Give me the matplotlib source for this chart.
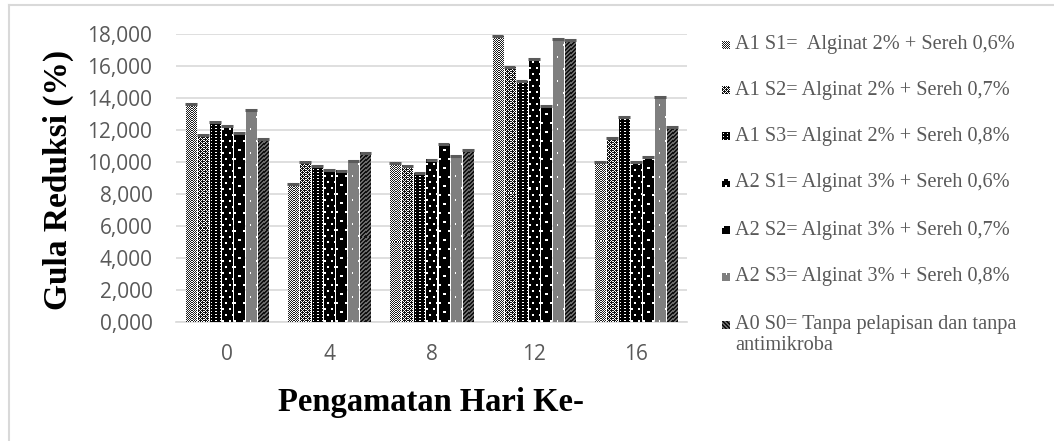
import matplotlib
matplotlib.use("Agg")
import matplotlib.pyplot as plt
import numpy as np
from matplotlib.lines import Line2D
from matplotlib.colors import to_rgb

days = ["0", "4", "8", "12", "16"]
series_labels = [
    "A1 S1=  Alginat 2% + Sereh 0,6%",
    "A1 S2= Alginat 2% + Sereh 0,7%",
    "A1 S3= Alginat 2% + Sereh 0,8%",
    "A2 S1= Alginat 3% + Sereh 0,6%",
    "A2 S2= Alginat 3% + Sereh 0,7%",
    "A2 S3= Alginat 3% + Sereh 0,8%",
    "A0 S0= Tanpa pelapisan dan tanpa\nantimikroba",
]
a1s1 = [13.60, 8.61, 9.96, 17.87, 10.03]
a1s2 = [11.70, 9.99, 9.78, 15.96, 11.48]
a1s3 = [12.50, 9.76, 9.30, 15.06, 12.79]
a2s1 = [12.25, 9.51, 10.13, 16.44, 10.03]
a2s2 = [11.80, 9.44, 11.11, 13.50, 10.30]
a2s3 = [13.25, 10.07, 10.40, 17.68, 14.04]
a0s0 = [11.44, 10.59, 10.76, 17.62, 12.17]
y_ticks = [0, 2, 4, 6, 8, 10, 12, 14, 16, 18]

series = [a1s1, a1s2, a1s3, a2s1, a2s2, a2s3, a0s0]


# Pixel texture fills: each function returns a boolean "foreground" mask
def _grid(h, w):
    return np.mgrid[0:h, 0:w]


def checker_fine(h, w):
    r, c = _grid(h, w)
    return (r + c) % 2 == 0


def checker_star(h, w):
    r, c = _grid(h, w)
    base = (r + c) % 2 == 0
    extra = ((r % 4 == 1) & (c % 4 == 2)) | ((r % 4 == 3) & (c % 4 == 0))
    return base | extra


def dots_grid(h, w):
    r, c = _grid(h, w)
    return ~((r % 3 == 1) & (c % 4 == 1))


def dots_medium(h, w):
    r, c = _grid(h, w)
    shift = (r // 6) % 2 * 3
    return ~((r % 6 < 2) & ((c + shift) % 6 < 2))


def dots_sparse(h, w):
    r, c = _grid(h, w)
    shift = (r // 9) % 2 * 4
    return ~((r % 9 < 2) & ((c + shift) % 8 < 2))


def dots_sparse_gray(h, w):
    r, c = _grid(h, w)
    return ~((r % 12 < 2) & ((c + (r // 12) % 2 * 5) % 10 == 4))


def diag_stripes(h, w):
    r, c = _grid(h, w)
    return ((c - r) % 4) < 2


# foreground colour, background colour, texture
styles = [
    ("#1e1e1e", "white", checker_fine),
    ("#111111", "white", checker_star),
    ("black", "white", dots_grid),
    ("black", "white", dots_medium),
    ("black", "white", dots_sparse),
    ("#7f7f7f", "white", dots_sparse_gray),
    ("#111111", "#6a6a6a", diag_stripes),
]


def texture(h, w, fg, bg, fn):
    mask = fn(h, w)
    img = np.empty((h, w, 3))
    img[mask] = to_rgb(fg)
    img[~mask] = to_rgb(bg)
    return img


W, H = 1054, 441
fig = plt.figure(figsize=(W / 100, H / 100), dpi=100)
ax_l, ax_r, ax_t, ax_b = 176, 687, 34, 322
ax = fig.add_axes([ax_l / W, 1 - ax_b / H, (ax_r - ax_l) / W, (ax_b - ax_t) / H])

n = len(series)
x = np.arange(len(days))
slot = 0.118
bw = 0.098
ax.set_xlim(-0.5, len(days) - 0.5)
ax.set_ylim(0, 18)
px_x = (ax_r - ax_l) / len(days)
px_y = (ax_b - ax_t) / 18.0

for i, (vals, (fg, bg, fn)) in enumerate(zip(series, styles)):
    pos = x + (i - (n - 1) / 2) * slot
    bars = ax.bar(pos, vals, width=bw, color="none", linewidth=0, zorder=3)
    for b in bars:
        x0, v = b.get_x(), b.get_height()
        wpx = max(1, int(round(b.get_width() * px_x)))
        hpx = max(1, int(round(v * px_y)))
        ax.imshow(texture(hpx, wpx, fg, bg, fn), extent=(x0, x0 + b.get_width(), 0, v),
                  origin="lower", interpolation="nearest", aspect="auto", zorder=3)
    ax.hlines(vals, pos - bw / 2 - 0.008, pos + bw / 2 + 0.008,
              colors="#5a5a5a", linewidth=2.2, zorder=4)

ax.set_xlim(-0.5, len(days) - 0.5)
ax.set_ylim(0, 18)
ax.set_yticks(y_ticks)
ax.set_yticklabels([f"{v:.3f}".replace(".", ",") for v in y_ticks])
ax.set_xticks(x)
ax.set_xticklabels(days)
ax.tick_params(length=0, labelsize=15, labelcolor="#595959")
ax.tick_params(axis="y", pad=17)
ax.tick_params(axis="x", pad=16)
for lab in ax.get_xticklabels() + ax.get_yticklabels():
    lab.set_family(["Open Sans", "DejaVu Sans"])
ax.grid(axis="y", color="#d9d9d9", linewidth=1.2, zorder=0)
for s in ["top", "right", "left"]:
    ax.spines[s].set_visible(False)
ax.spines["bottom"].set_color("#d9d9d9")
ax.spines["bottom"].set_linewidth(1.2)

fig.text(58 / W, 1 - 180 / H, "Gula Reduksi (%)", rotation=90, ha="center",
         va="center", family="Liberation Serif", weight="bold", fontsize=24)
fig.text(431 / W, 1 - 402 / H, "Pengamatan Hari Ke-", ha="center",
         va="center", family="Liberation Serif", weight="bold", fontsize=23.5)

# legend: textured swatches and labels placed in figure pixels
leg_y = [45, 90, 136, 183, 230, 277, 325]
for (fg, bg, fn), lab, yy in zip(styles, series_labels, leg_y):
    sw = texture(8, 8, fg, bg, fn)
    fig.figimage(sw, xo=722, yo=H - yy - 4, origin="upper", zorder=5)
    lines = lab.split("\n")
    for k, line in enumerate(lines):
        fig.text(735 / W, 1 - (yy + 21 * k) / H, line, ha="left", va="center",
                 family="Liberation Serif", fontsize=14.6, color="#595959")

# outer frame (left and top edges)
fig.lines.append(Line2D([8.5 / W, 8.5 / W], [0, 1 - 5 / H], transform=fig.transFigure,
                        color="#d9d9d9", linewidth=1.5))
fig.lines.append(Line2D([8.5 / W, 1], [1 - 5 / H, 1 - 5 / H], transform=fig.transFigure,
                        color="#d9d9d9", linewidth=1.5))

fig.savefig("out.png", dpi=100)
